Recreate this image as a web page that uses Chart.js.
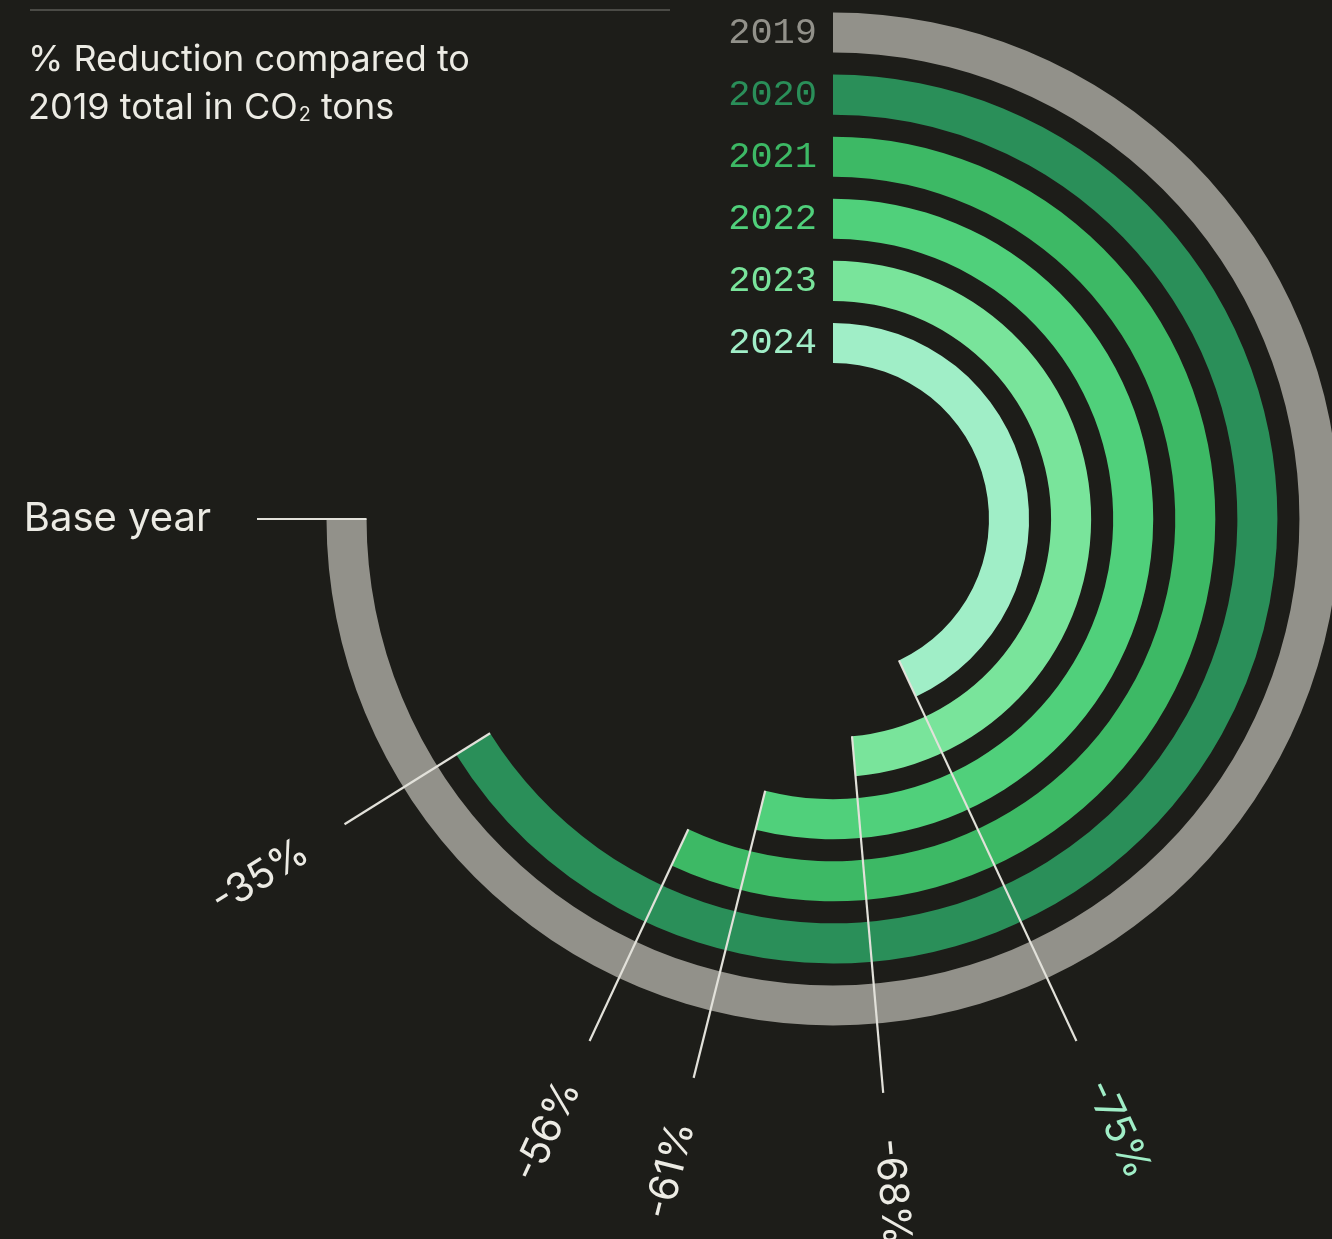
<!DOCTYPE html>
<html lang="en">
<head>
<meta charset="UTF-8">
<title>CO2 reduction rings</title>
<script src="https://cdn.jsdelivr.net/npm/chart.js"></script>
<style>
  html, body { margin: 0; padding: 0; background: #1d1d19; overflow: hidden; }
  #wrap { position: relative; width: 1332px; height: 1239px; overflow: hidden; }
  #chart { position: absolute; left: 0; top: 0; }
  .rule { position: absolute; left: 30px; top: 9px; width: 640px; height: 2px; background: #4b4b46; }
  .title { position: absolute; left: 28px; top: 34px; font-family: Inter, sans-serif; font-size: 36px;
           line-height: 48px; color: #ecebe4; }
  .title sub { font-size: 0.55em; vertical-align: -0.12em; line-height: 0; margin-left: 1px; }
</style>
</head>
<body>
<div id="wrap">
  <canvas id="chart" width="1345" height="1239"></canvas>
  <div class="rule"></div>
  <div class="title">% Reduction compared to<br>2019 total in CO<sub>2</sub> tons</div>
</div>

<script>
// values
const years = ['2019', '2020', '2021', '2022', '2023', '2024'];
const reductionLabels = ['Base year', '-35%', '-56%', '-61%', '-68%', '-75%'];
// sweep of each ring in degrees, the full 2019 ring is 270
const arcDegrees = [270, 238, 205, 194, 175, 155];

const ringColors = ['#92918a', '#2a8f59', '#3db965', '#50d07b', '#79e49b', '#a0eec7'];
const SWEEP = 270;

// one dataset per ring, with an empty ring between them for the dark gap
const datasets = [];
years.forEach((year, i) => {
    if (i > 0) {
        datasets.push({ label: 'gap', data: [SWEEP], backgroundColor: 'rgba(0,0,0,0)', weight: 22 });
    }
    datasets.push({
        label: year,
        ring: i,
        data: [arcDegrees[i], SWEEP - arcDegrees[i]],
        backgroundColor: [ringColors[i], 'rgba(0,0,0,0)'],
        weight: 40
    });
});

const ringLabels = {
    id: 'ringLabels',
    afterDatasetsDraw(chart) {
        const ctx = chart.ctx;
        chart.data.datasets.forEach((ds, di) => {
            if (ds.ring === undefined) return;
            const i = ds.ring;
            const arc = chart.getDatasetMeta(di).data[0];
            const { x, y, endAngle, innerRadius, outerRadius } = arc;

            ctx.save();
            // year at the start of the ring
            ctx.font = '37px "Liberation Mono"';
            ctx.fillStyle = ringColors[i];
            ctx.textAlign = 'right';
            ctx.textBaseline = 'alphabetic';
            const midR = (innerRadius + outerRadius) / 2;
            ctx.fillText(years[i], x - 16, y - midR + 10.5);

            // leader line from the end of the ring
            const c = Math.cos(endAngle), s = Math.sin(endAngle);
            ctx.strokeStyle = '#e2e1da';
            ctx.lineWidth = 2.2;
            ctx.beginPath();
            ctx.moveTo(x + c * innerRadius, y + s * innerRadius);
            ctx.lineTo(x + c * 576, y + s * 576);
            ctx.stroke();

            // reduction label, continuing the leader line
            ctx.translate(x + c * 622, y + s * 622);
            const leftSide = c < -0.001;
            ctx.rotate(leftSide ? endAngle + Math.PI : endAngle);
            ctx.textAlign = leftSide ? 'right' : 'left';
            ctx.textBaseline = 'middle';
            ctx.font = '40px Inter';
            ctx.fillStyle = i === years.length - 1 ? ringColors[i] : '#ecebe4';
            ctx.fillText(reductionLabels[i], 0, 0);
            ctx.restore();
        });
    }
};

new Chart(document.getElementById('chart'), {
    type: 'doughnut',
    data: { labels: ['value', 'rest'], datasets: datasets },
    options: {
        responsive: false,
        animation: false,
        events: [],
        rotation: 0,
        circumference: SWEEP,
        cutout: '30.8%',
        layout: { padding: { left: 326.5, top: 12.5, right: 5.5, bottom: 213.5 } },
        elements: { arc: { borderWidth: 0, hoverOffset: 0, offset: 0 } },
        plugins: { legend: { display: false }, tooltip: { enabled: false } }
    },
    plugins: [ringLabels]
});
</script>
</body>
</html>
